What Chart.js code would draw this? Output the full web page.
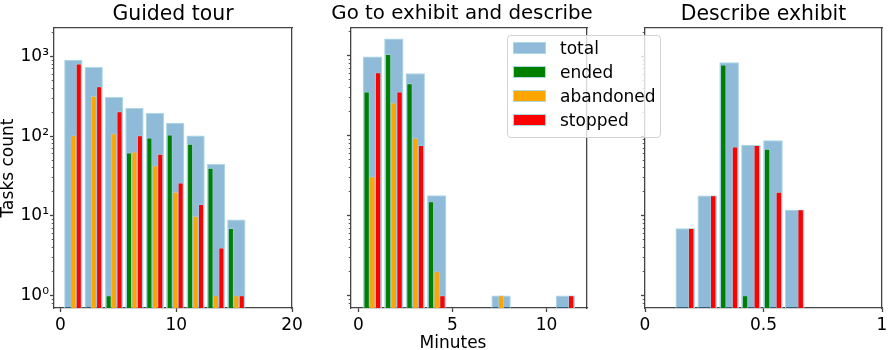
<!DOCTYPE html>
<html>
<head>
<meta charset="utf-8">
<script src="https://cdn.jsdelivr.net/npm/chart.js@4.4.1/dist/chart.umd.min.js"></script>
<style>
body{margin:0;background:#fff;}
#wrap{position:relative;width:893px;height:350px;overflow:hidden;}
#wrap canvas{position:absolute;top:0;}
#legend{position:absolute;left:507px;top:35px;width:152px;height:101px;border:1px solid #d2d2d2;border-radius:4px;background:rgba(255,255,255,0.8);font:17px "DejaVu Sans";color:#000;}
#legend .row{position:absolute;left:0;height:24px;line-height:24px;white-space:nowrap;}
#legend .box{position:absolute;left:5px;top:6px;width:31px;height:10px;border:1px solid #add8e6;}
#legend .txt{position:absolute;left:52px;top:0;}
</style>
</head>
<body>
<div id="wrap">
  <canvas id="c1" width="906" height="350" style="left:0px"></canvas>
  <canvas id="c2" width="320" height="350" style="left:300px"></canvas>
  <canvas id="c3" width="293" height="350" style="left:600px"></canvas>
  <div id="legend"></div>
</div>
<script>
// series names / colours
const seriesNames = ['total', 'ended', 'abandoned', 'stopped'];
const seriesColors = ['rgba(31,119,180,0.5)', '#008000', '#ffa500', '#ff0000'];
const edgeColor = '#add8e6';

// Guided tour (bin centres in minutes)
const tourBins = [1.11, 2.87, 4.63, 6.39, 8.15, 9.91, 11.67, 13.43, 15.19];
const tourTotal = [912, 740, 310, 226, 196, 148, 102, 45, 9];
const tourEnded = [null, null, 1, 62, 96, 104, 80, 40, 7];
const tourAbandoned = [102, 320, 108, 64, 43, 20, 10, 1, 1];
const tourStopped = [810, 420, 204, 102, 60, 26, 14, 4, 1];

// Go to exhibit and describe
const goBins = [0.745, 1.885, 3.025, 4.165, 5.305, 6.445, 7.585, 8.725, 9.865, 11.005];
const goTotal = [982, 1650, 608, 18, null, null, 1, null, null, 1];
const goEnded = [355, 1050, 452, 15, null, null, null, null, null, null];
const goAbandoned = [31, 259, 94, 2, null, null, 1, null, null, null];
const goStopped = [620, 355, 76, 1, null, null, null, null, null, 1];

// Describe exhibit
const descBins = [0.170, 0.263, 0.355, 0.447, 0.540, 0.632];
const descTotal = [7, 18, 850, 78, 89, 12];
const descEnded = [null, null, 787, 1, 69, null];
const descAbandoned = [null, null, null, null, null, null];
const descStopped = [7, 18, 74, 77, 20, 12];

// ticks
const tourXTicks = [0, 10, 20];
const tourXLabels = ['0', '10', '20'];
const goXTicks = [0, 5, 10];
const goXLabels = ['0', '5', '10'];
const descXTicks = [0, 0.5, 1];
const descXLabels = ['0', '0.5', '1'];
const yDecades = [1, 10, 100, 1000];
const yDecadeLabels = ['10\u2070', '10\u00b9', '10\u00b2', '10\u00b3'];
const yMin = 0.722, yMax = 2285;

const fam = '"DejaVu Sans"';
const spine = '#444';
const subIds = ['xe', 'xa', 'xs'];

function isDecade(v) {
  const l = Math.log10(v);
  return Math.abs(l - Math.round(l)) < 1e-9;
}

function logTicks(scale) {
  const t = [];
  for (let e = -1; e <= 3; e++) {
    for (let m = 1; m <= 9; m++) {
      const v = parseFloat((m * Math.pow(10, e)).toPrecision(6));
      if (v >= yMin && v <= yMax) t.push({value: v});
    }
  }
  scale.ticks = t;
}

function pts(bins, vals) {
  return bins.map((b, i) => ({x: b, y: vals[i]}));
}

function panel(id, p) {
  // total: one wide bar per bin
  const ds = [{
    label: seriesNames[0], data: pts(p.bins, p.total), xAxisID: 'x', grouped: false,
    backgroundColor: seriesColors[0], borderColor: edgeColor, borderWidth: 1,
    categoryPercentage: 0.9, barPercentage: 1, order: 1
  }];
  // ended / abandoned / stopped: three narrow bars side by side in 80% of the bin
  [p.ended, p.abandoned, p.stopped].forEach((vals, k) => {
    ds.push({
      label: seriesNames[k + 1], data: pts(p.bins, vals), xAxisID: subIds[k], grouped: false,
      backgroundColor: seriesColors[k + 1], borderColor: edgeColor, borderWidth: 0.7,
      categoryPercentage: 0.8 / 3, barPercentage: 1, order: 0
    });
  });

  const xTickSet = s => { s.ticks = p.xTicks.map(v => ({value: v})); };
  const binW = p.bins[1] - p.bins[0];

  const scales = {
    x: {
      type: 'linear', position: 'bottom', min: p.xMin, max: p.xMax, offset: false,
      afterBuildTicks: xTickSet,
      afterFit: s => { s.height = p.xHeight; },
      ticks: {
        autoSkip: false, maxRotation: 0, color: '#000', padding: 3,
        font: {family: fam, size: 17},
        callback: (v, i) => p.xLabels[i]
      },
      grid: {offset: false, drawOnChartArea: false, tickLength: 4, tickColor: spine, tickWidth: 1.3},
      border: {color: spine, width: 1.3}
    },
    x2: {
      type: 'linear', position: 'top', min: p.xMin, max: p.xMax, offset: false,
      afterBuildTicks: xTickSet,
      afterFit: s => { s.height = 0; },
      ticks: {display: false},
      grid: {offset: false, display: false, drawTicks: false},
      border: {color: spine, width: 1.3}
    },
    y: {
      type: 'logarithmic', position: 'left', min: yMin, max: yMax,
      afterBuildTicks: logTicks,
      afterFit: s => { s.width = p.yWidth; },
      ticks: {
        autoSkip: false, color: '#000', padding: 1,
        font: {family: fam, size: 17},
        callback: v => {
          if (!p.yLabels) return '';
          const k = yDecades.indexOf(v);
          return k >= 0 ? yDecadeLabels[k] : '';
        }
      },
      grid: {
        drawOnChartArea: false, tickLength: 4, tickColor: spine,
        tickWidth: c => isDecade(c.tick.value) ? 1.3 : 0.9,
        tickBorderDash: c => isDecade(c.tick.value) ? [] : [0, 1.7, 2.3, 50]
      },
      border: {color: spine, width: 1.3},
      title: p.ylabel ? {
        display: true, text: p.ylabel, color: '#000',
        font: {family: fam, size: 17, lineHeight: 1},
        padding: {top: 0, bottom: 0}
      } : {display: false}
    },
    y2: {
      type: 'linear', position: 'right',
      afterFit: s => { s.width = p.rightWidth; },
      ticks: {display: false},
      grid: {display: false, drawTicks: false},
      border: {color: spine, width: 1.3}
    }
  };
  // hidden x axes, each slid by one sub-bar slot so the three series sit side by side
  subIds.forEach((sid, k) => {
    const off = (k - 1) * binW * 0.8 / 3;
    scales[sid] = {
      type: 'linear', display: false, offset: false,
      min: p.xMin - off, max: p.xMax - off,
      afterBuildTicks: s => { s.ticks = [{value: s.min}, {value: s.max}]; }
    };
  });

  return new Chart(document.getElementById(id), {
    type: 'bar',
    data: {datasets: ds},
    options: {
      responsive: false,
      animation: false,
      layout: {padding: p.padding},
      plugins: {
        legend: {display: false},
        tooltip: {enabled: false},
        title: {
          display: true, text: p.title, fullSize: p.titleFull, color: '#000',
          font: {family: fam, size: p.titleSize, weight: 'normal', lineHeight: 1.2},
          padding: {top: 2, bottom: 1.5}
        },
        subtitle: p.xlabel ? {
          display: true, text: p.xlabel, position: 'bottom', fullSize: true, color: '#000',
          font: {family: fam, size: 17, weight: 'normal', lineHeight: 0.8},
          padding: 0
        } : {display: false}
      },
      scales: scales
    }
  });
}

// first canvas spans the page so the shared "Minutes" label sits under the figure
panel('c1', {
  title: 'Guided tour', titleFull: false, titleSize: 20.4, bins: tourBins, total: tourTotal, ended: tourEnded,
  abandoned: tourAbandoned, stopped: tourStopped,
  xMin: -0.56, xMax: 20, xTicks: tourXTicks, xLabels: tourXLabels,
  yLabels: true, ylabel: 'Tasks count', xlabel: 'Minutes',
  padding: {left: 0, right: 0, top: 0, bottom: 0}, yWidth: 54, rightWidth: 614, xHeight: 28.4
});

const mid = panel('c2', {
  title: 'Go to exhibit and describe', titleFull: true, titleSize: 19.8, bins: goBins, total: goTotal, ended: goEnded,
  abandoned: goAbandoned, stopped: goStopped,
  xMin: -0.39, xMax: 12.15, xTicks: goXTicks, xLabels: goXLabels,
  yLabels: false,
  padding: {left: 4, right: 0, top: 0, bottom: 0}, yWidth: 47, rightWidth: 33, xHeight: 42
});

panel('c3', {
  title: 'Describe exhibit', titleFull: false, titleSize: 20.4, bins: descBins, total: descTotal, ended: descEnded,
  abandoned: descAbandoned, stopped: descStopped,
  xMin: 0, xMax: 1, xTicks: descXTicks, xLabels: descXLabels,
  yLabels: false,
  padding: {left: 0, right: 11, top: 0, bottom: 0}, yWidth: 45, rightWidth: 0, xHeight: 42
});

// html legend built from the middle chart's datasets
const leg = document.getElementById('legend');
mid.data.datasets.forEach((d, i) => {
  const row = document.createElement('div');
  row.className = 'row';
  row.style.top = (i * 24) + 'px';
  row.innerHTML = '<span class="box" style="background:' + d.backgroundColor + '"></span><span class="txt">' + d.label + '</span>';
  leg.appendChild(row);
});
</script>
</body>
</html>
